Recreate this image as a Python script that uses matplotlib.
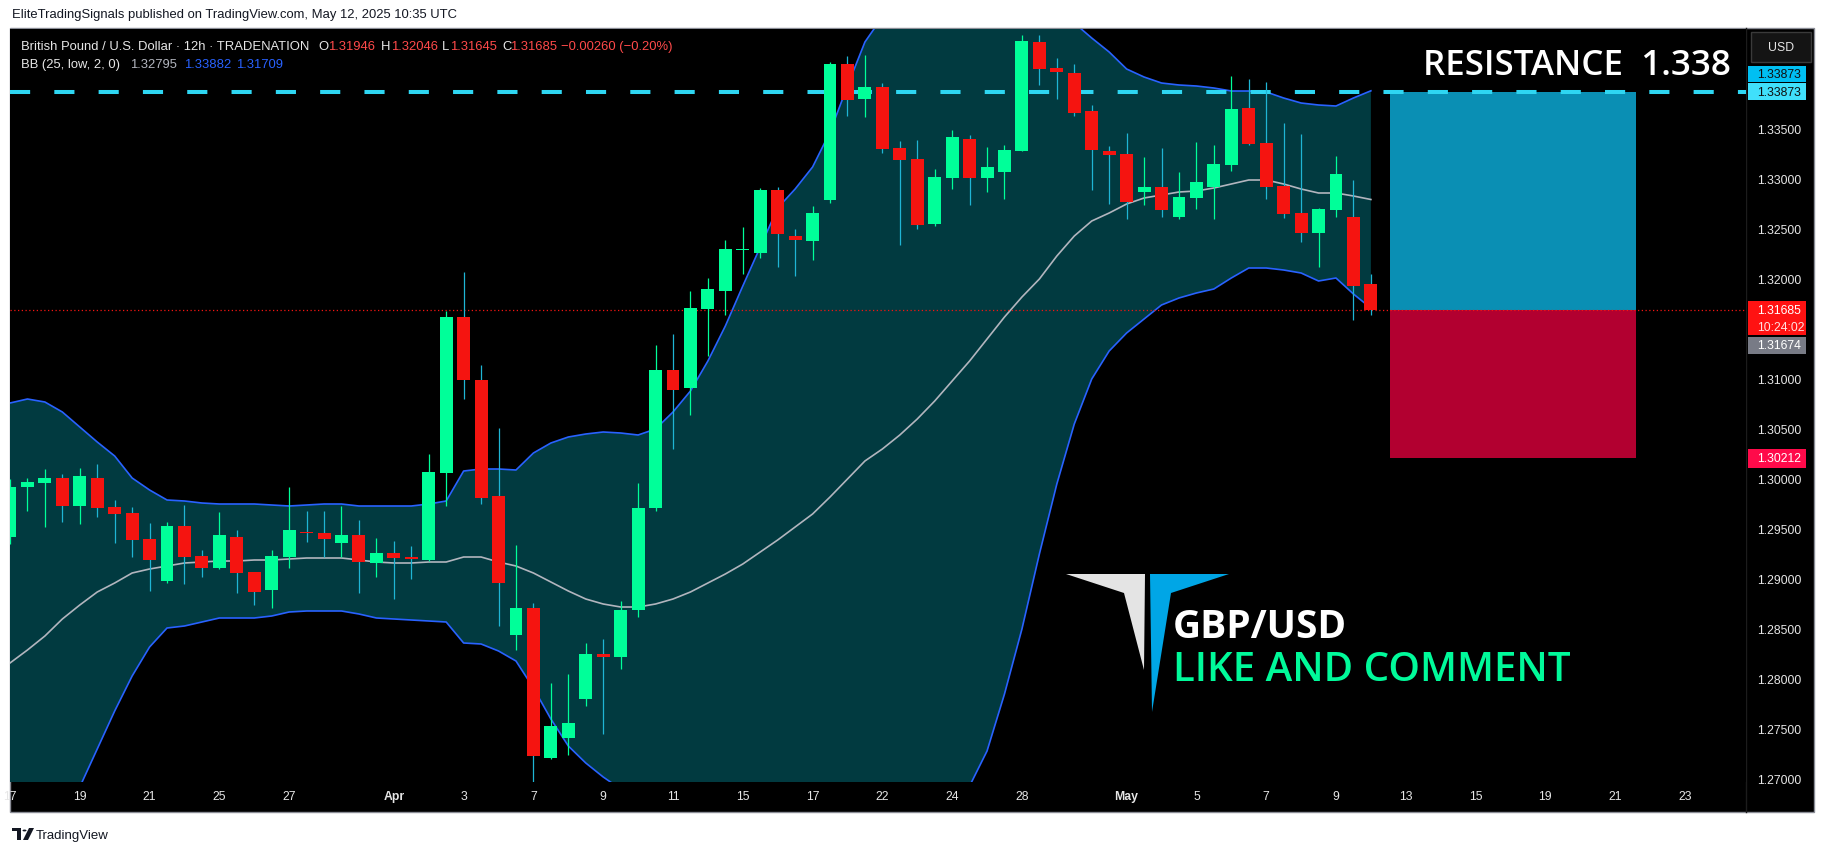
import matplotlib
matplotlib.use("Agg")
import matplotlib.pyplot as plt
import numpy as np
from matplotlib.patches import Rectangle, Polygon, Circle

W, H = 1826, 853

# 12h candles, index 0 = Mar 17 first bar
opens = [1.2942, 1.2992, 1.2996, 1.3001, 1.2973, 1.3001, 1.2972, 1.2966, 1.2940, 1.2898,
         1.2953, 1.2923, 1.2911, 1.2942, 1.2907, 1.2889, 1.2922, 1.2947, 1.2946, 1.2936,
         1.2944, 1.2916, 1.2926, 1.2922, 1.2919, 1.3006, 1.3162, 1.3099, 1.2983, 1.2844,
         1.2871, 1.2721, 1.2741, 1.2780, 1.2825, 1.2822, 1.2869, 1.2971, 1.3109, 1.3091,
         1.3170, 1.3188, 1.3229, 1.3226, 1.3289, 1.3243, 1.3238, 1.3279, 1.3415, 1.3380,
         1.3392, 1.3331, 1.3320, 1.3255, 1.3301, 1.3340, 1.3301, 1.3307, 1.3328, 1.3437,
         1.3411, 1.3406, 1.3368, 1.3328, 1.3325, 1.3287, 1.3292, 1.3262, 1.3281, 1.3292,
         1.3314, 1.3371, 1.3336, 1.3293, 1.3266, 1.3246, 1.3269, 1.3262, 1.31946]
highs = [1.3000, 1.3001, 1.3010, 1.3005, 1.3011, 1.3015, 1.2979, 1.2972, 1.2956, 1.2957,
         1.2974, 1.2929, 1.2967, 1.2949, 1.2907, 1.2929, 1.2992, 1.2968, 1.2968, 1.2973,
         1.2959, 1.2941, 1.2938, 1.2933, 1.3025, 1.3168, 1.3207, 1.3114, 1.3051, 1.2934,
         1.2876, 1.2796, 1.2805, 1.2836, 1.2840, 1.2878, 1.2996, 1.3134, 1.3145, 1.3188,
         1.3201, 1.3239, 1.3252, 1.3291, 1.3292, 1.3250, 1.3273, 1.3417, 1.3423, 1.3424,
         1.3396, 1.3338, 1.3339, 1.3310, 1.3349, 1.3344, 1.3332, 1.3334, 1.3444, 1.3444,
         1.3421, 1.3415, 1.3374, 1.3333, 1.3346, 1.3322, 1.3331, 1.3307, 1.3337, 1.3334,
         1.3403, 1.3400, 1.3397, 1.3356, 1.3345, 1.3271, 1.3323, 1.3299, 1.32046]
lows = [1.2935, 1.2968, 1.2952, 1.2957, 1.2955, 1.2962, 1.2936, 1.2922, 1.2888, 1.2896,
        1.2895, 1.2902, 1.2910, 1.2886, 1.2874, 1.2871, 1.2911, 1.2937, 1.2922, 1.2922,
        1.2886, 1.2902, 1.2880, 1.2900, 1.2918, 1.2973, 1.3080, 1.2975, 1.2853, 1.2829,
        1.2688, 1.2720, 1.2724, 1.2773, 1.2745, 1.2810, 1.2862, 1.2968, 1.3030, 1.3064,
        1.3123, 1.3164, 1.3205, 1.3221, 1.3212, 1.3203, 1.3219, 1.3276, 1.3363, 1.3362,
        1.3326, 1.3234, 1.3250, 1.3253, 1.3290, 1.3274, 1.3287, 1.3280, 1.3328, 1.3394,
        1.3380, 1.3363, 1.3289, 1.3275, 1.3260, 1.3274, 1.3262, 1.3260, 1.3270, 1.3260,
        1.3308, 1.3334, 1.3280, 1.3261, 1.3237, 1.3212, 1.3262, 1.3159, 1.31645]
closes = [1.2992, 1.2997, 1.3001, 1.2973, 1.3003, 1.2971, 1.2965, 1.2939, 1.2919, 1.2953,
          1.2922, 1.2911, 1.2944, 1.2906, 1.2887, 1.2923, 1.2949, 1.2946, 1.2940, 1.2944,
          1.2917, 1.2926, 1.2921, 1.2920, 1.3007, 1.3162, 1.3099, 1.2981, 1.2896, 1.2871,
          1.2723, 1.2753, 1.2756, 1.2825, 1.2822, 1.2869, 1.2971, 1.3109, 1.3089, 1.3171,
          1.3190, 1.3230, 1.3230, 1.3289, 1.3245, 1.3239, 1.3266, 1.3415, 1.3379, 1.3392,
          1.3330, 1.3319, 1.3254, 1.3302, 1.3342, 1.3301, 1.3312, 1.3329, 1.3438, 1.3410,
          1.3407, 1.3366, 1.3329, 1.3324, 1.3277, 1.3292, 1.3269, 1.3282, 1.3297, 1.3315,
          1.3370, 1.3335, 1.3292, 1.3265, 1.3246, 1.3270, 1.3305, 1.3193, 1.31685]

# Bollinger bands
bb_upper = [1.3076, 1.3080, 1.3077, 1.3067, 1.3052, 1.3037, 1.3023, 1.3001, 1.2989, 1.2979,
            1.2978, 1.2976, 1.2975, 1.2975, 1.2975, 1.2974, 1.2973, 1.2974, 1.2975, 1.2975,
            1.2973, 1.2973, 1.2973, 1.2973, 1.2975, 1.2978, 1.3008, 1.3010, 1.3010, 1.3009,
            1.3026, 1.3036, 1.3042, 1.3045, 1.3047, 1.3046, 1.3044, 1.3050, 1.3067, 1.3088,
            1.3118, 1.3153, 1.3193, 1.3232, 1.3271, 1.3290, 1.3312, 1.3347, 1.3393, 1.3437,
            1.3462, 1.3482, 1.3498, 1.3508, 1.3514, 1.3515, 1.3512, 1.3505, 1.3495, 1.3482,
            1.3468, 1.3456, 1.3441, 1.3427, 1.3410, 1.3402, 1.3396, 1.3394, 1.3393, 1.3391,
            1.3388, 1.3388, 1.3387, 1.3381, 1.3376, 1.3374, 1.3373, 1.3381, 1.33882]
bb_basis = [1.2816, 1.2829, 1.2843, 1.2860, 1.2874, 1.2887, 1.2896, 1.2906, 1.2910, 1.2913,
            1.2916, 1.2917, 1.2918, 1.2918, 1.2919, 1.2919, 1.2920, 1.2921, 1.2921, 1.2921,
            1.2919, 1.2917, 1.2916, 1.2916, 1.2917, 1.2917, 1.2922, 1.2922, 1.2917, 1.2913,
            1.2906, 1.2897, 1.2888, 1.2880, 1.2875, 1.2872, 1.2872, 1.2875, 1.2880, 1.2887,
            1.2896, 1.2905, 1.2915, 1.2927, 1.2939, 1.2952, 1.2965, 1.2982, 1.3000, 1.3018,
            1.3030, 1.3044, 1.3060, 1.3078, 1.3098, 1.3118, 1.3140, 1.3162, 1.3182, 1.3200,
            1.3223, 1.3243, 1.3258, 1.3266, 1.3275, 1.3281, 1.3284, 1.3287, 1.3288, 1.3291,
            1.3295, 1.3299, 1.3299, 1.3295, 1.3290, 1.3286, 1.3286, 1.3283, 1.32795]
bb_lower = [1.2620, 1.2635, 1.2650, 1.2668, 1.2692, 1.2730, 1.2768, 1.2803, 1.2832, 1.2851,
            1.2853, 1.2857, 1.2861, 1.2861, 1.2861, 1.2863, 1.2867, 1.2868, 1.2868, 1.2868,
            1.2865, 1.2861, 1.2860, 1.2859, 1.2858, 1.2857, 1.2836, 1.2835, 1.2828, 1.2818,
            1.2791, 1.2760, 1.2733, 1.2716, 1.2702, 1.2690, 1.2678, 1.2665, 1.2652, 1.2640,
            1.2630, 1.2620, 1.2612, 1.2605, 1.2600, 1.2597, 1.2596, 1.2598, 1.2602, 1.2610,
            1.2622, 1.2638, 1.2655, 1.2668, 1.2680, 1.2693, 1.2728, 1.2785, 1.2850, 1.2925,
            1.2995, 1.3055, 1.3100, 1.3128, 1.3146, 1.3160, 1.3174, 1.3181, 1.3186, 1.3190,
            1.3201, 1.3211, 1.3211, 1.3209, 1.3206, 1.3198, 1.3201, 1.3185, 1.31709]

tick_bars = [0, 4, 8, 12, 16, 22, 26, 30, 34, 38, 42, 46, 50, 54, 58, 64, 68, 72, 76, 80, 84, 88, 92, 96]
tick_labels = ["17", "19", "21", "25", "27", "Apr", "3", "7", "9", "11", "15", "17",
               "22", "24", "28", "May", "5", "7", "9", "13", "15", "19", "21", "23"]
price_ticks = [1.270, 1.275, 1.280, 1.285, 1.290, 1.295, 1.300, 1.305, 1.310,
               1.320, 1.325, 1.330, 1.335]

resistance = 1.33873
last_price = 1.31685
prev_price = 1.31674
stop_price = 1.30212
pos_left, pos_right = 79.1, 93.2

GREEN = "#00ff99"
RED = "#f51410"

plt.rcParams["font.family"] = ["Liberation Sans", "DejaVu Sans"]

fig = plt.figure(figsize=(W / 100, H / 100), dpi=100, facecolor="white")


def fx(px):
    return px / W


def fy(py):
    return 1 - py / H


# black chart frame
fig.add_artist(Rectangle((fx(10), fy(813)), fx(1814) - fx(10), fy(29) - fy(813),
                         transform=fig.transFigure, facecolor="black",
                         edgecolor="#8a8d96", linewidth=1, zorder=-1))

ax = fig.add_axes([fx(10), fy(783), (1746 - 10) / W, (783 - 30) / H])
ax.set_facecolor("black")
ax.set_xlim(0.126, 99.5)
ax.set_ylim(1.2697, 1.345)
for s in ax.spines.values():
    s.set_visible(False)

idx = np.arange(len(opens))
o = np.array(opens)
h = np.array(highs)
l = np.array(lows)
c = np.array(closes)
up = c >= o

# bollinger bands
ax.fill_between(idx, bb_lower, bb_upper, color="#013a40", linewidth=0, zorder=1)
ax.plot(idx, bb_upper, color="#2962ff", lw=1.2, zorder=2)
ax.plot(idx, bb_lower, color="#2962ff", lw=1.2, zorder=2)
ax.plot(idx, bb_basis, color="#b2b5be", lw=1.2, zorder=2)

# long position tool
ax.add_patch(Rectangle((pos_left, last_price), pos_right - pos_left, resistance - last_price,
                       facecolor="#0a8fb4", edgecolor="none", zorder=2))
ax.add_patch(Rectangle((pos_left, stop_price), pos_right - pos_left, last_price - stop_price,
                       facecolor="#b20030", edgecolor="none", zorder=2))

ax.axhline(resistance, color="#2ed6f2", lw=2.9, linestyle=(0, (5, 6)), zorder=3)
ax.axhline(last_price, color=RED, lw=0.9, linestyle=(0, (1, 2)), zorder=3)

# candles
ax.vlines(idx[up], l[up], h[up], color=GREEN, lw=0.9, zorder=4)
ax.vlines(idx[~up], l[~up], h[~up], color="#1fb5d4", lw=0.9, zorder=4)
body_lo = np.minimum(o, c)
body_h = np.maximum(np.abs(c - o), 0.00014)
ax.bar(idx, body_h, bottom=body_lo, width=0.74, color=np.where(up, GREEN, RED),
       linewidth=0, zorder=5)

# axes ticks
ax.yaxis.tick_right()
ax.set_yticks(price_ticks)
ax.set_yticklabels([f"{p:.5f}" for p in price_ticks])
ax.tick_params(axis="y", length=0, pad=7.9, labelsize=8.8, labelcolor="#e6e6e6")
ax.set_xticks(tick_bars)
ax.set_xticklabels(tick_labels)
ax.tick_params(axis="x", length=0, pad=6.0, labelsize=8.8, labelcolor="#e6e6e6")
for t in ax.get_xticklabels():
    if t.get_text() in ("Apr", "May"):
        t.set_fontweight("bold")

# separators
fig.add_artist(plt.Line2D([fx(1746), fx(1746)], [fy(29), fy(813)], color="#1c1c1c", lw=1,
                          transform=fig.transFigure, zorder=-0.5))


def price_y(p):
    return H - ax.transData.transform((0, p))[1]


def axis_tag(y_top, y_bot, color, lines, text_color):
    fig.add_artist(Rectangle((fx(1748), fy(y_bot)), (1806 - 1748) / W, (y_bot - y_top) / H,
                             transform=fig.transFigure, facecolor=color, edgecolor="none",
                             zorder=4))
    step = (y_bot - y_top) / len(lines)
    for i, (txt, col) in enumerate(zip(lines, text_color)):
        fig.text(fx(1757), fy(y_top + step * (i + 0.5)), txt, color=col, fontsize=8.8,
                 va="center", ha="left", zorder=5)


ry = price_y(resistance)
axis_tag(ry - 26, ry - 10, "#00bff2", [f"{resistance:.5f}"], ["#101010"])
axis_tag(ry - 8.5, ry + 8.5, "#40e0fb", [f"{resistance:.5f}"], ["#101010"])
ly = price_y(last_price)
axis_tag(ly - 9, ly + 25, "#ff1212", [f"{last_price:.5f}", "10:24:02"], ["white", "#ffe0e0"])
axis_tag(ly + 26.5, ly + 43.5, "#787b86", [f"{prev_price:.5f}"], ["white"])
sy = price_y(stop_price)
axis_tag(sy - 9, sy + 10, "#ff0a4a", [f"{stop_price:.5f}"], ["white"])

# USD button
fig.add_artist(Rectangle((fx(1751), fy(63)), 60 / W, 30 / H, transform=fig.transFigure,
                         facecolor="#141414", edgecolor="#3a3a3a", lw=1, zorder=4))
fig.text(fx(1781), fy(48), "USD", color="#e6e6e6", fontsize=8.8, ha="center", va="center",
         zorder=5)

# header
fig.text(fx(12), fy(15), "EliteTradingSignals published on TradingView.com, May 12, 2025 10:35 UTC",
         color="#131722", fontsize=9.36, va="center")
hdr = [(20.6, "British Pound / U.S. Dollar \u00b7 12h \u00b7 TRADENATION", "#e6e6e6"),
       (318, "O", "#e6e6e6"), (328, "1.31946", "#ff4a4a"),
       (381, "H", "#e6e6e6"), (391, "1.32046", "#ff4a4a"),
       (442, "L", "#e6e6e6"), (450, "1.31645", "#ff4a4a"),
       (502, "C", "#e6e6e6"), (510, "1.31685", "#ff4a4a"),
       (561, "\u22120.00260 (\u22120.20%)", "#ff4a4a")]
for x, txt, col in hdr:
    fig.text(fx(x), fy(47), txt, color=col, fontsize=9.36, va="center")
hdr2 = [(20.6, "BB (25, low, 2, 0)", "#e6e6e6"), (130, "1.32795", "#b2b5be"),
        (184, "1.33882", "#2962ff"), (236, "1.31709", "#2962ff")]
for x, txt, col in hdr2:
    fig.text(fx(x), fy(65), txt, color=col, fontsize=9.36, va="center")

# overlays
fig.text(fx(1423), fy(75), "RESISTANCE  1.338", color="white", fontsize=25.2,
         fontweight="semibold", family=["Open Sans", "DejaVu Sans"], va="baseline", zorder=6)
fig.add_artist(Polygon([(fx(1066), fy(575)), (fx(1145), fy(575)), (fx(1144), fy(671)),
                        (fx(1124), fy(594))], closed=True, transform=fig.transFigure,
                       facecolor="#e4e4e4", edgecolor="none", zorder=6))
fig.add_artist(Polygon([(fx(1150), fy(575)), (fx(1229), fy(575)), (fx(1171), fy(594)),
                        (fx(1152), fy(713))], closed=True, transform=fig.transFigure,
                       facecolor="#00a6e6", edgecolor="none", zorder=6))
fig.text(fx(1173), fy(638), "GBP/USD", color="white", fontsize=28, fontweight="bold",
         family=["Open Sans", "DejaVu Sans"], va="baseline", zorder=6)
fig.text(fx(1173), fy(681), "LIKE AND COMMENT", color="#00fa9a", fontsize=29,
         fontweight="semibold", family=["Open Sans", "DejaVu Sans"], va="baseline", zorder=6)

# TradingView footer logo
fig.add_artist(Rectangle((fx(12), fy(832)), 9 / W, 3 / H, transform=fig.transFigure,
                         facecolor="#131722", edgecolor="none"))
fig.add_artist(Rectangle((fx(17), fy(841)), 4 / W, 12 / H, transform=fig.transFigure,
                         facecolor="#131722", edgecolor="none"))
fig.add_artist(Circle((fx(24.5), fy(831.5)), 2 / W, transform=fig.transFigure,
                      facecolor="#131722", edgecolor="none"))
fig.add_artist(Polygon([(fx(29), fy(829)), (fx(34), fy(829)), (fx(28), fy(841)), (fx(23), fy(841))],
                       closed=True, transform=fig.transFigure, facecolor="#131722", edgecolor="none"))
fig.text(fx(36), fy(836), "TradingView", color="#131722", fontsize=9.5, va="center")

fig.savefig("out.png", dpi=100, facecolor="white")
